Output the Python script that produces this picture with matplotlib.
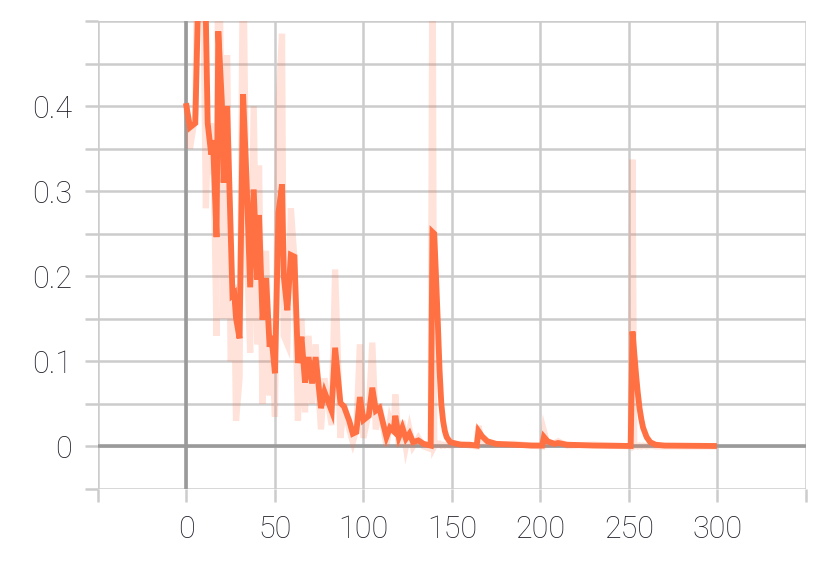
import numpy as np
import matplotlib.pyplot as plt
from matplotlib.ticker import FuncFormatter

steps = [0, 2, 5, 7, 9, 11, 12, 14, 15, 17, 18, 20, 21, 23, 25, 26, 27, 28, 30,
         32, 34, 36, 38, 40, 41, 43, 45, 47, 48, 50, 52, 54, 55, 57, 59, 61,
         63, 65, 67, 69, 71, 73, 76, 78, 82, 84, 87, 89, 92, 94, 96, 98, 100,
         103, 105, 107, 109, 113, 115, 117, 118, 120, 122, 124, 126, 128, 131,
         134, 138, 139, 140, 141, 142, 143, 144, 145, 146, 147, 149, 155, 160,
         164, 165, 167, 170, 175, 185, 195, 201, 202, 204, 208, 210, 215, 230,
         251, 252, 253, 254, 255, 256, 257, 258, 260, 262, 265, 270, 298]

# raw loss values (faint line)
raw = [0.40, 0.35, 0.39, 0.70, 0.62, 0.28, 0.36, 0.32, 0.38, 0.13, 0.65, 0.36,
       0.15, 0.46, 0.10, 0.12, 0.19, 0.03, 0.08, 0.60, 0.24, 0.11, 0.40, 0.12,
       0.33, 0.05, 0.23, 0.06, 0.15, 0.035, 0.40, 0.485, 0.13, 0.12, 0.28,
       0.22, 0.03, 0.15, 0.04, 0.13, 0.05, 0.12, 0.02, 0.08, 0.025, 0.208,
       0.01, 0.05, 0.02, 0.005, 0.02, 0.12, 0.01, 0.04, 0.122, 0.02, 0.05,
       0.0, 0.03, 0.015, 0.061, 0.0, 0.03, 0.0, 0.02, 0.0, 0.01, 0.0, -0.003,
       0.63, 0.0, 0.004, 0.002, 0.003, 0.001, 0.002, 0.001, 0.002, 0.001,
       0.003, 0.001, 0.0, 0.024, 0.004, 0.003, 0.002, 0.003, 0.001, 0.0,
       0.018, 0.002, 0.004, 0.006, 0.001, 0.002, 0.0, 0.337, 0.0, 0.001,
       0.0, 0.001, 0.0, 0.001, 0.0, 0.001, 0.0, 0.0, 0.0]

# smoothed loss values (solid line)
smoothed = [0.40, 0.375, 0.38, 0.56, 0.58, 0.50, 0.38, 0.343, 0.36, 0.246,
            0.488, 0.405, 0.31, 0.40, 0.252, 0.178, 0.18, 0.151, 0.127, 0.414,
            0.311, 0.187, 0.302, 0.196, 0.272, 0.149, 0.198, 0.117, 0.13,
            0.086, 0.275, 0.308, 0.20, 0.16, 0.225, 0.223, 0.098, 0.129, 0.075,
            0.105, 0.074, 0.105, 0.045, 0.064, 0.042, 0.116, 0.051, 0.047,
            0.03, 0.015, 0.017, 0.058, 0.031, 0.036, 0.069, 0.042, 0.045,
            0.011, 0.022, 0.018, 0.036, 0.011, 0.022, 0.009, 0.015, 0.005,
            0.007, 0.003, 0.001, 0.252, 0.25, 0.20, 0.147, 0.09, 0.05, 0.03,
            0.018, 0.011, 0.005, 0.002, 0.002, 0.001, 0.018, 0.012, 0.006,
            0.003, 0.002, 0.001, 0.001, 0.011, 0.006, 0.003, 0.004, 0.002,
            0.001, 0.0005, 0.135, 0.11, 0.085, 0.063, 0.045, 0.032, 0.022,
            0.011, 0.005, 0.002, 0.001, 0.0005]

orange = '#ff7043'
grid_grey = '#cccccc'
zero_grey = '#9a9a9a'
text_col = '#1e1e28'

plt.rcParams['font.family'] = ['Roboto', 'DejaVu Sans']

fig = plt.figure(figsize=(8.3, 5.62), dpi=100)
ax = fig.add_axes([0.118, 0.130, 0.853, 0.8326])

ax.plot(steps, raw, color=orange, alpha=0.2, lw=4.5, zorder=3,
        solid_joinstyle='miter')
ax.plot(steps, smoothed, color=orange, lw=4.2, zorder=4,
        solid_joinstyle='miter')

ax.axhline(0, color=zero_grey, lw=2.6, zorder=2)
ax.axvline(0, color=zero_grey, lw=2.6, zorder=2)

ax.set_xlim(-50, 350)
ax.set_ylim(-0.05, 0.5)
ax.set_xticks(np.arange(-50, 351, 50))
ax.set_yticks(np.arange(-0.05, 0.501, 0.05))


def xfmt(v, pos):
    if 0 <= v <= 300:
        return '%d' % round(v)
    return ''


def yfmt(v, pos):
    r = round(v * 20)
    if r % 2 == 0 and 0 <= r <= 8:
        return '0' if r == 0 else '%.1f' % (r / 20)
    return ''


ax.xaxis.set_major_formatter(FuncFormatter(xfmt))
ax.yaxis.set_major_formatter(FuncFormatter(yfmt))

ax.grid(True, color=grid_grey, lw=1.8, zorder=1)
ax.set_axisbelow(True)
for s in ax.spines.values():
    s.set_visible(False)

ax.tick_params(axis='both', colors=grid_grey, length=9.5, width=1.8,
               labelcolor=text_col, labelsize=22)
ax.tick_params(axis='y', pad=9)
ax.tick_params(axis='x', pad=9)
for lab in ax.get_xticklabels() + ax.get_yticklabels():
    lab.set_fontweight('light')

fig.savefig('out.png', dpi=100)
